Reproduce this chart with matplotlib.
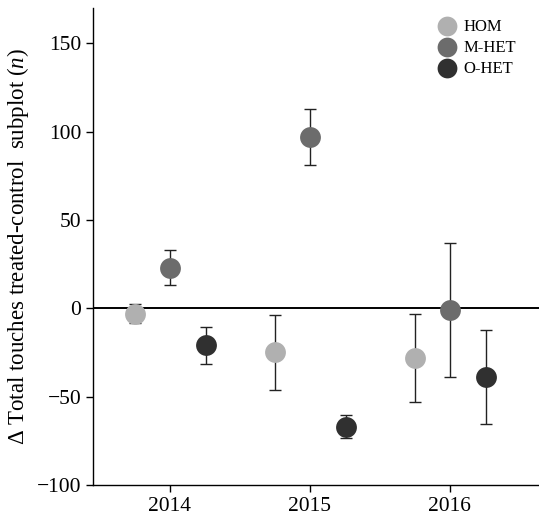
"""Plots treated-control touch differences per year and stand type."""

import matplotlib
matplotlib.use('Agg')
import matplotlib.pyplot as plt
import numpy as np

# Data
years = [2014, 2015, 2016]
groups = ['HOM', 'M-HET', 'O-HET']
hom_mean = [-3, -25, -28]
hom_err = [5.5, 21, 25]
mhet_mean = [23, 97, -1]
mhet_err = [10, 16, 38]
ohet_mean = [-21, -67, -39]
ohet_err = [10.5, 6.6, 26.7]

plt.rcParams['font.family'] = ['Liberation Serif', 'DejaVu Serif']
plt.rcParams['mathtext.fontset'] = 'custom'
plt.rcParams['mathtext.rm'] = 'Liberation Serif'
plt.rcParams['mathtext.it'] = 'Liberation Serif:italic'


def main():
    """Draws the figure and saves out.png."""
    fig = plt.figure(figsize=(5.39, 5.21), dpi=100)
    axes = fig.add_axes([0.1725, 0.069, 0.8275, 0.916])

    axes.axhline(0, color='black', lw=1.4, zorder=1)

    series = [(hom_mean, hom_err, '#b0b0b0', -0.25),
              (mhet_mean, mhet_err, '#6c6c6c', 0.0),
              (ohet_mean, ohet_err, '#303030', 0.26)]
    for name, (mean, err, color, shift) in zip(groups, series):
        xs = np.array(years) + shift
        axes.errorbar(xs, mean, yerr=err, fmt='none', ecolor='#222222',
                      elinewidth=1.0, capsize=4, capthick=1.0, zorder=2)
        axes.plot(xs, mean, 'o', color=color, markersize=15,
                  markeredgewidth=0, label=name, zorder=3)

    axes.set_xlim(2013.45, 2016.64)
    axes.set_ylim(-100, 170)
    axes.set_xticks(years)
    axes.set_yticks([-100, -50, 0, 50, 100, 150])
    axes.tick_params(labelsize=15.5, length=5, width=1, direction='out')
    axes.spines['top'].set_visible(False)
    axes.spines['right'].set_visible(False)
    axes.spines['left'].set_linewidth(1)
    axes.spines['bottom'].set_linewidth(1)
    axes.set_ylabel(r'$\Delta$ Total touches treated-control  subplot ($n$)',
                    fontsize=16.5, labelpad=4)

    axes.legend(loc='upper right', frameon=False, fontsize=12,
                handletextpad=0.3, borderpad=0.2, labelspacing=0.3,
                handlelength=1.4, markerscale=0.95,
                bbox_to_anchor=(0.975, 1.0))

    fig.savefig('out.png', dpi=100)
    plt.close(fig)


if __name__ == '__main__':
    main()
